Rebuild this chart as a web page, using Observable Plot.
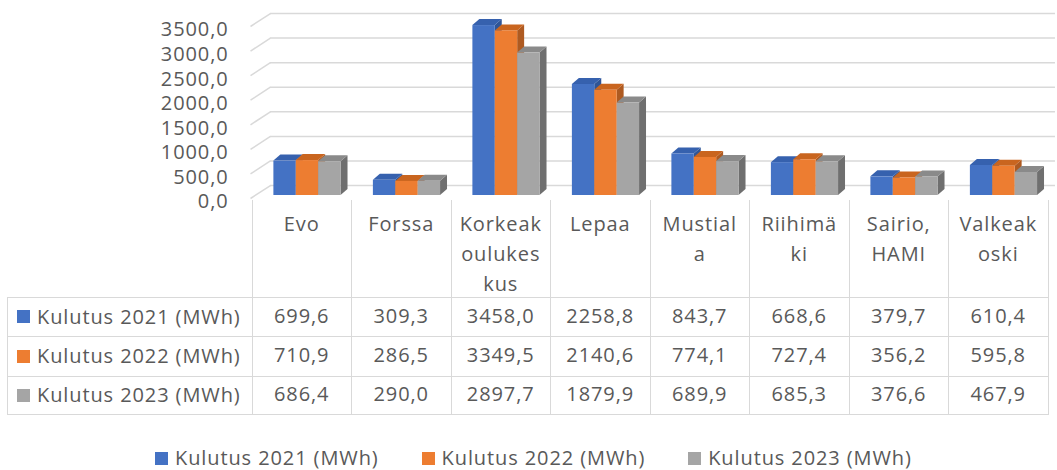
<!DOCTYPE html>
<html>
<head>
<meta charset="utf-8">
<script src="https://cdn.jsdelivr.net/npm/d3@7"></script>
<script src="https://cdn.jsdelivr.net/npm/@observablehq/plot@0.6"></script>
<style>
  html, body { margin: 0; padding: 0; background: #fff; }
  #wrap { position: relative; width: 1057px; height: 470px; overflow: hidden; font-family: "Open Sans", sans-serif; color: #595959; }
  #chart { position: absolute; left: 0; top: 0; }
  .t { position: absolute; white-space: nowrap; font-size: 20px; letter-spacing: 0.9px; line-height: 30px; color: #595959; }
  .ln { position: absolute; background: #d9d9d9; }
  .sw { position: absolute; width: 13px; height: 13px; }
  #legend { position: absolute; left: 155px; top: 444px; display: flex; align-items: center; }
  #legend .item { display: flex; align-items: center; margin-right: 43px; }
  #legend .box { width: 13px; height: 13px; margin-right: 7px; }
  #legend .lab { font-size: 20px; letter-spacing: 0.9px; white-space: nowrap; color: #595959; line-height: 28px; }
</style>
</head>
<body>
<div id="wrap">
  <div id="chart"></div>
  <div id="table"></div>
  <div id="legend"></div>
</div>
<script>
// ---- data ----
const categories = ["Evo", "Forssa", "Korkeakoulukeskus", "Lepaa", "Mustiala", "Riihimäki", "Sairio, HAMI", "Valkeakoski"];
const categoryLabels = [["Evo"], ["Forssa"], ["Korkeak", "oulukes", "kus"], ["Lepaa"], ["Mustial", "a"], ["Riihimä", "ki"], ["Sairio,", "HAMI"], ["Valkeak", "oski"]];
const seriesNames = ["Kulutus 2021 (MWh)", "Kulutus 2022 (MWh)", "Kulutus 2023 (MWh)"];
const kulutus2021 = [699.6, 309.3, 3458.0, 2258.8, 843.7, 668.6, 379.7, 610.4];
const kulutus2022 = [710.9, 286.5, 3349.5, 2140.6, 774.1, 727.4, 356.2, 595.8];
const kulutus2023 = [686.4, 290.0, 2897.7, 1879.9, 689.9, 685.3, 376.6, 467.9];
const yTicks = [0, 500, 1000, 1500, 2000, 2500, 3000, 3500];

const seriesValues = [kulutus2021, kulutus2022, kulutus2023];
const frontColors = ["#4472C4", "#ED7D31", "#A5A5A5"];
const topColors = ["#3661AE", "#C9651F", "#8A8A8A"];
const sideColors = ["#2F5597", "#AE5A21", "#6F6F6F"];

const fmt = v => v.toFixed(1).replace(".", ",");

// 3D projection depths (in scale units)
const barDX = 0.07, barDY = 122;       // bar depth
const wallFrontX = -0.02, wallFrontY = -61; // front edge of the floor/wall
const wallBackX = 0.18, wallBackY = 203;    // back wall
const gridEndX = 8.07;
const groupStart = 0.215, barW = 0.225;

const bars = [];
seriesValues.forEach((vals, j) => vals.forEach((v, i) => {
  const l = i + groupStart + j * barW;
  bars.push({i, j, v, l, r: l + barW, id: j + "-" + i});
}));

const sidePts = bars.flatMap(b => [
  {id: b.id, j: b.j, x: b.r, y1: 0, y2: b.v},
  {id: b.id, j: b.j, x: b.r + barDX, y1: barDY, y2: b.v + barDY}
]);
const topPts = bars.flatMap(b => [
  {id: b.id, j: b.j, y: b.v, x1: b.l, x2: b.r},
  {id: b.id, j: b.j, y: b.v + barDY, x1: b.l + barDX, x2: b.r + barDX}
]);

const marks = [
  Plot.ruleY(yTicks, {x1: wallBackX, x2: gridEndX, y: d => d + wallBackY, stroke: "#d9d9d9", strokeWidth: 1.5}),
  Plot.link(yTicks, {x1: wallFrontX, y1: d => d + wallFrontY, x2: wallBackX, y2: d => d + wallBackY, stroke: "#d9d9d9", strokeWidth: 1.5}),
];
[0, 1, 2].forEach(j => {
  marks.push(Plot.areaY(sidePts.filter(d => d.j === j), {x: "x", y1: "y1", y2: "y2", z: "id", fill: sideColors[j]}));
});
[0, 1, 2].forEach(j => {
  marks.push(Plot.areaX(topPts.filter(d => d.j === j), {y: "y", x1: "x1", x2: "x2", z: "id", fill: topColors[j]}));
});
[0, 1, 2].forEach(j => {
  marks.push(Plot.rect(bars.filter(d => d.j === j), {x1: "l", x2: "r", y1: 0, y2: "v", fill: frontColors[j]}));
});
marks.push(Plot.text(yTicks, {x: -0.24, y: d => d, dy: 6.5, text: d => fmt(d), textAnchor: "end", fill: "#595959", fontSize: 20}));

const chart = Plot.plot({
  width: 1057,
  height: 200,
  marginLeft: 252,
  marginRight: 9,
  marginTop: 23,
  marginBottom: 5,
  x: {domain: [0, 8], axis: null},
  y: {domain: [0, 3500], axis: null},
  style: {fontFamily: "'Open Sans', sans-serif", fontSize: "20px", letterSpacing: "0.9px", background: "transparent", overflow: "visible"},
  marks
});
document.getElementById("chart").appendChild(chart);

// ---- data table ----
const tbl = document.getElementById("table");
const colX = d3.range(9).map(k => 252 + 99.5 * k);
const tableTop = 200, rowY = [297, 336.5, 376, 414.5], tableLeft = 7, tableRight = colX[8];
function add(cls, css, text) {
  const el = document.createElement("div");
  el.className = cls;
  Object.assign(el.style, css);
  if (text != null) el.textContent = text;
  tbl.appendChild(el);
  return el;
}
colX.forEach(x => add("ln", {left: (x - 0.5) + "px", top: tableTop + "px", width: "1px", height: (rowY[3] - tableTop) + "px"}));
add("ln", {left: (tableLeft - 0.5) + "px", top: rowY[0] + "px", width: "1px", height: (rowY[3] - rowY[0]) + "px"});
rowY.forEach(y => add("ln", {left: tableLeft + "px", top: (y - 0.5) + "px", width: (tableRight - tableLeft) + "px", height: "1px"}));

categoryLabels.forEach((lines, i) => {
  lines.forEach((s, k) => {
    add("t", {left: colX[i] + "px", width: "99.5px", textAlign: "center", top: (tableTop + 9 + 30 * k) + "px"}, s);
  });
});
seriesValues.forEach((vals, j) => {
  const cy = (rowY[j] + rowY[j + 1]) / 2;
  add("sw", {left: "17px", top: (cy - 6.5) + "px", background: frontColors[j]});
  add("t", {left: "37px", top: (cy - 15) + "px"}, seriesNames[j]);
  vals.forEach((v, i) => {
    add("t", {left: colX[i] + "px", width: "99.5px", textAlign: "center", top: (cy - 16) + "px"}, fmt(v));
  });
});

// ---- legend ----
const leg = document.getElementById("legend");
seriesNames.forEach((name, j) => {
  const it = document.createElement("div");
  it.className = "item";
  it.innerHTML = `<div class="box" style="background:${frontColors[j]}"></div><div class="lab"></div>`;
  it.querySelector(".lab").textContent = name;
  leg.appendChild(it);
});
</script>
</body>
</html>
